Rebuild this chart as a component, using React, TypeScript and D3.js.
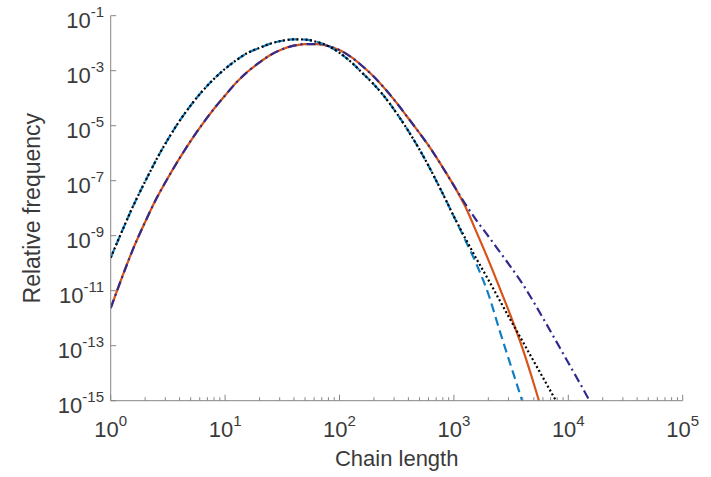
import React from "react";
import * as d3 from "d3";

// Chain lengths (x) shared by all series
const chainLengths = [
  1, 1.26, 1.58, 2, 2.51, 3.16, 3.98, 5.01, 6.31, 7.94,
  10, 12.6, 15.8, 20, 25.1, 31.6, 39.8, 50.1, 63.1, 79.4,
  100, 126, 158, 200, 251, 316, 398, 501, 631, 794,
  1000, 1260, 1580, 2000, 2510, 3160, 3980, 5010, 6310, 7940,
  10000, 12600, 15800,
];

// Narrow distribution, blue dashed
const blueDashed = [
  1.58e-10, 1.51e-9, 1.26e-8, 9.33e-8, 5.89e-7, 3.16e-6, 1.45e-5, 5.5e-5, 1.78e-4, 4.9e-4,
  1.17e-3, 2.45e-3, 4.47e-3, 6.76e-3, 9.77e-3, 1.23e-2, 1.38e-2, 1.35e-2, 1.12e-2, 7.94e-3,
  4.47e-3, 2.09e-3, 8.32e-4, 3.16e-4, 1.05e-4, 2.82e-5, 6.61e-6, 1.35e-6, 2.34e-7, 3.55e-8,
  5.01e-9, 6.76e-10, 8.91e-11, 7.59e-12, 3.55e-13, 1.78e-14, 8.91e-16, 3.98e-17,
];

// Narrow distribution, black dotted
const blackDotted = [
  1.58e-10, 1.51e-9, 1.26e-8, 9.33e-8, 5.89e-7, 3.16e-6, 1.45e-5, 5.5e-5, 1.78e-4, 4.9e-4,
  1.17e-3, 2.45e-3, 4.47e-3, 6.76e-3, 9.77e-3, 1.23e-2, 1.38e-2, 1.35e-2, 1.12e-2, 7.94e-3,
  4.47e-3, 2.09e-3, 8.32e-4, 3.16e-4, 1.05e-4, 2.82e-5, 6.61e-6, 1.35e-6, 2.34e-7, 3.55e-8,
  5.01e-9, 7.94e-10, 1.41e-10, 2.51e-11, 4.47e-12, 7.94e-13, 1.45e-13, 2.63e-14, 4.79e-15, 8.71e-16,
  1.58e-16,
];

// Broader distribution, orange solid
const orangeSolid = [
  2.34e-12, 3.16e-11, 3.55e-10, 3.16e-9, 2.24e-8, 1.26e-7, 6.31e-7, 2.82e-6, 1.12e-5, 3.98e-5,
  1.26e-4, 3.8e-4, 9.33e-4, 2.0e-3, 3.8e-3, 6.03e-3, 8.13e-3, 9.33e-3, 9.33e-3, 7.94e-3,
  5.62e-3, 3.16e-3, 1.48e-3, 6.03e-4, 2.14e-4, 6.76e-5, 1.91e-5, 5.37e-6, 1.41e-6, 3.16e-7,
  6.61e-8, 1.12e-8, 1.32e-9, 1.32e-10, 1.26e-11, 1.12e-12, 7.94e-14, 3.98e-15, 1.58e-16,
];

// Broader distribution, indigo dash-dot
const indigoDashDot = [
  2.34e-12, 3.16e-11, 3.55e-10, 3.16e-9, 2.24e-8, 1.26e-7, 6.31e-7, 2.82e-6, 1.12e-5, 3.98e-5,
  1.26e-4, 3.8e-4, 9.33e-4, 2.0e-3, 3.8e-3, 6.03e-3, 8.13e-3, 9.33e-3, 9.33e-3, 7.94e-3,
  5.62e-3, 3.16e-3, 1.48e-3, 6.03e-4, 2.14e-4, 6.76e-5, 1.91e-5, 5.37e-6, 1.41e-6, 3.16e-7,
  6.61e-8, 1.41e-8, 3.55e-9, 9.55e-10, 2.63e-10, 7.08e-11, 1.78e-11, 3.72e-12, 7.08e-13, 1.32e-13,
  2.4e-14, 4.37e-15, 7.94e-16,
];

const xTickExps = [0, 1, 2, 3, 4, 5];
const yTickExps = [-1, -3, -5, -7, -9, -11, -13, -15];

const W = 711;
const H = 477;
const X0 = 110.7;
const X1 = 682.7;
const Y0 = 400.7;
const Y1 = 15.7;

const FONT = "'Liberation Sans', Arial, Helvetica, sans-serif";
const AXIS = "#868686";
const TEXT = "#3a3a3a";

export default function App() {
  const x = d3.scaleLog().domain([1, 1e5]).range([X0, X1]);
  const y = d3.scaleLog().domain([1e-15, 1e-1]).range([Y0, Y1]);

  const mk = (ys: number[]) =>
    d3
      .line<number>()
      .x((_, i) => x(chainLengths[i]))
      .y((v) => y(v))
      .curve(d3.curveMonotoneX)(ys) || "";

  const minor: number[] = [];
  for (let e = 0; e < 5; e++) {
    for (let m = 2; m <= 9; m++) minor.push(m * Math.pow(10, e));
  }

  return (
    <svg
      width={W}
      height={H}
      style={{ position: "absolute", left: 0, top: 0, background: "#fff" }}
      fontFamily={FONT}
    >
      <defs>
        <clipPath id="plotclip">
          <rect x={X0} y={Y1 - 5} width={X1 - X0} height={Y0 - Y1 + 5} />
        </clipPath>
      </defs>

      <g clipPath="url(#plotclip)" fill="none" strokeWidth={2.2}>
        <path d={mk(orangeSolid)} stroke="#D95319" />
        <path d={mk(indigoDashDot)} stroke="#2F2A8E" strokeDasharray="9,4,2,4" />
        <path d={mk(blueDashed)} stroke="#0F7FC4" strokeDasharray="9,5" />
        <path d={mk(blackDotted)} stroke="#000000" strokeDasharray="2,2.5" />
      </g>

      {/* axes */}
      <line x1={X0} x2={X0} y1={Y1} y2={Y0} stroke={AXIS} strokeWidth={1} />
      <line x1={X0} x2={X1} y1={Y0} y2={Y0} stroke={AXIS} strokeWidth={1} />

      {minor.map((v) => (
        <line key={"m" + v} x1={x(v)} x2={x(v)} y1={Y0} y2={Y0 - 3.5} stroke={AXIS} />
      ))}
      {xTickExps.map((e) => (
        <g key={"x" + e}>
          <line x1={x(Math.pow(10, e))} x2={x(Math.pow(10, e))} y1={Y0} y2={Y0 - 6} stroke={AXIS} />
          <text x={x(Math.pow(10, e))} y={436.5} textAnchor="middle" fontSize={22} fill={TEXT}>
            10
            <tspan dy={-11} fontSize={15}>
              {String(e)}
            </tspan>
          </text>
        </g>
      ))}
      {yTickExps.map((e) => (
        <g key={"y" + e}>
          <line x1={X0} x2={X0 + 5.5} y1={y(Math.pow(10, e))} y2={y(Math.pow(10, e))} stroke={AXIS} />
          <text x={104} y={y(Math.pow(10, e)) + 12} textAnchor="end" fontSize={22} fill={TEXT}>
            10
            <tspan dy={-11} fontSize={15}>
              {String(e)}
            </tspan>
          </text>
        </g>
      ))}

      <text x={(X0 + X1) / 2} y={466} textAnchor="middle" fontSize={22} fill={TEXT}>
        Chain length
      </text>
      <text
        transform={`translate(40,${(Y0 + Y1) / 2}) rotate(-90)`}
        textAnchor="middle"
        fontSize={23}
        fill={TEXT}
      >
        Relative frequency
      </text>
    </svg>
  );
}
